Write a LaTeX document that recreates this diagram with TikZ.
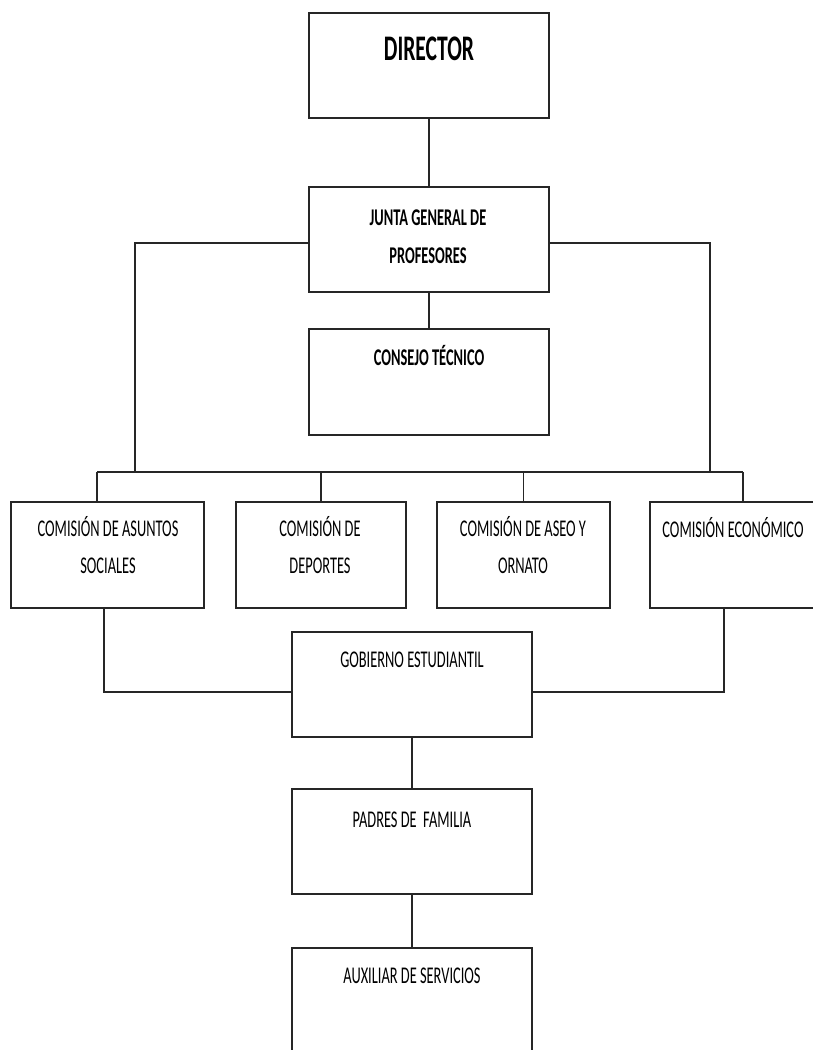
\documentclass[tikz,border=0pt]{standalone}
\usepackage{fontspec}
\setmainfont{Carlito}[FakeStretch=0.6]
\begin{document}
\begin{tikzpicture}[x=1pt,y=-1pt,
  orgbox/.style={draw=black!85,line width=1.8pt,fill=none,inner sep=0pt},
  lbl/.style={anchor=base,inner sep=0pt,align=center,font=\fontsize{24}{37}\selectfont},
  blbl/.style={lbl,font=\fontsize{24}{38}\selectfont\bfseries},
  conn/.style={draw=black!85,line width=1.5pt}]
\clip (0,0) rectangle (813,1050);
\fill[white] (0,0) rectangle (813,1050);
% boxes
\node[orgbox,minimum width=240pt,minimum height=105pt] (dir) at (429,65.5) {};
\node[orgbox,minimum width=240pt,minimum height=105pt] (junta) at (429,239.5) {};
\node[orgbox,minimum width=240pt,minimum height=106pt] (cons) at (429,382) {};
\node[orgbox,minimum width=193pt,minimum height=106pt] (asun) at (107.5,555) {};
\node[orgbox,minimum width=170pt,minimum height=106pt] (dep) at (321,555) {};
\node[orgbox,minimum width=173pt,minimum height=106pt] (aseo) at (523.5,555) {};
\node[orgbox,minimum width=180pt,minimum height=106pt] (econ) at (740,555) {};
\node[orgbox,minimum width=240pt,minimum height=105pt] (gob) at (412,684.5) {};
\node[orgbox,minimum width=240pt,minimum height=105pt] (pad) at (412,841.5) {};
\node[orgbox,minimum width=240pt,minimum height=112pt] (aux) at (412,1004) {};
% labels (placed at the baseline of their last line)
\node[lbl,font=\fontsize{36}{40}\selectfont\bfseries] (dirT) at (429,60) {DIRECTOR};
\node[blbl] (juntaT) at (428,263) {JUNTA GENERAL DE\\PROFESORES};
\node[blbl] (consT) at (429,365) {CONSEJO TÉCNICO};
\node[lbl] (asunT) at (108,573) {COMISIÓN DE ASUNTOS\\SOCIALES};
\node[lbl] (depT) at (320,573) {COMISIÓN DE\\DEPORTES};
\node[lbl] (aseoT) at (523,573) {COMISIÓN DE ASEO Y\\ORNATO};
\node[lbl] (econT) at (733,537) {COMISIÓN ECONÓMICO};
\node[lbl] (gobT) at (412,667) {GOBIERNO ESTUDIANTIL};
\node[lbl] (padT) at (412,827) {PADRES DE\ \ FAMILIA};
\node[lbl] (auxT) at (412,983) {AUXILIAR DE SERVICIOS};
% connector points
\coordinate (jl) at (135,243);
\coordinate (jr) at (710,243);
\coordinate (busL) at (97,472);
\coordinate (busR) at (743,472);
\coordinate (gl) at (104,692);
\coordinate (gr) at (724,692);
% connectors
\draw[conn] (dir.south) -- (junta.north);
\draw[conn] (junta.south) -- (cons.north);
\draw[conn] (junta.west |- jl) -- (jl) -- (jl |- busL);
\draw[conn] (junta.east |- jr) -- (jr) -- (jr |- busR);
\draw[conn] (busL) -- (busR);
\draw[conn] (busL) -- (busL |- asun.north);
\draw[conn] (dep.north |- busL) -- (dep.north);
\draw[conn] (aseo.north |- busL) -- (aseo.north);
\draw[conn] (busR) -- (busR |- econ.north);
\draw[conn] (gl |- asun.south) -- (gl) -- (gl -| gob.west);
\draw[conn] (gr |- econ.south) -- (gr) -- (gr -| gob.east);
\draw[conn] (gob.south) -- (pad.north);
\draw[conn] (pad.south) -- (aux.north);
\end{tikzpicture}
\end{document}
